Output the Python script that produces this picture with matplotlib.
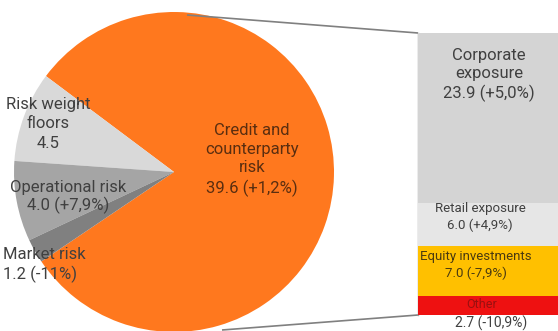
import matplotlib.pyplot as plt

# RWA split by risk type (EUR bn)
pie_labels = ["Credit and\ncounterparty\nrisk\n39.6 (+1,2%)", "Risk weight\nfloors\n4.5",
              "Operational risk\n4.0 (+7,9%)", "Market risk\n1.2 (-11%)"]
pie_values = [39.6, 4.5, 4.0, 1.2]
pie_colors = ["#FF781E", "#D9D9D9", "#A5A5A5", "#808080"]

# credit risk broken down by exposure class
bar_labels = ["Corporate\nexposure\n23.9 (+5,0%)", "Retail exposure\n6.0 (+4,9%)",
              "Equity investments\n7.0 (-7,9%)", "Other"]
bar_values = [23.9, 6.0, 7.0, 2.7]
bar_colors = ["#D4D4D4", "#E6E6E6", "#FFC000", "#EE1111"]

plt.rcParams['font.family'] = ['Roboto', 'DejaVu Sans']
txt = "#404040"

fig = plt.figure(figsize=(5.58, 3.31), dpi=100)
ax = fig.add_axes([0, 0, 1, 1])

# pie, y measured from bottom of figure
ax.pie(pie_values, colors=pie_colors, startangle=-146, counterclock=True,
       center=(174, 159), radius=160, wedgeprops=dict(linewidth=0))
# pie() resets the limits, so set them afterwards
ax.set_xlim(0, 558)
ax.set_ylim(0, 331)
ax.set_aspect('equal')
ax.axis('off')

ax.text(252, 171, pie_labels[0], ha='center', va='center', ma='center',
        fontsize=12, color="#5a2e10", linespacing=1.3)
ax.text(48, 207, pie_labels[1], ha='center', va='center', ma='center',
        fontsize=12, color=txt, linespacing=1.35)
ax.text(68, 134, pie_labels[2], ha='center', va='center', ma='center',
        fontsize=12, color=txt, linespacing=1.2)
ax.text(3, 66, pie_labels[3], ha='left', va='center', ma='left',
        fontsize=12, color=txt, linespacing=1.35)

# connector lines to the breakdown bar
ax.plot([187, 418], [316, 298], color="#808080", lw=1.2, solid_capstyle='butt')
ax.plot([222, 418], [1, 16], color="#808080", lw=1.2, solid_capstyle='butt')
ax.plot([418, 418], [16, 298], color="#a0a0a0", lw=1.0)

# stacked bar in its own axes
bx = fig.add_axes([418 / 558, 16 / 331, 140 / 558, 282 / 331])
bx.set_xlim(0, 1)
bx.set_ylim(0, sum(bar_values))
bx.axis('off')
bottom = sum(bar_values)
for v, c in zip(bar_values, bar_colors):
    bottom -= v
    bx.bar(0.5, v, width=1.0, bottom=bottom, color=c, linewidth=0)

# bar labels live on bx so they sit above the bars, placed in figure pixels
tr = ax.transData
bx.text(489, 256, bar_labels[0], ha='center', va='center', ma='center',
        fontsize=12, color=txt, linespacing=1.3, transform=tr)
bx.text(480, 114, bar_labels[1], ha='center', va='center', ma='center',
        fontsize=9.5, color=txt, linespacing=1.3, transform=tr)
bx.text(476, 66, bar_labels[2], ha='center', va='center', ma='center',
        fontsize=9.5, color="#4a3a10", linespacing=1.3, transform=tr)
bx.text(482, 27, bar_labels[3], ha='center', va='center', fontsize=9,
        color="#9a1010", transform=tr)
bx.text(491, 8, "2.7 (-10,9%)", ha='center', va='center', fontsize=10,
        color=txt, transform=tr, clip_on=False)

fig.savefig("out.png", dpi=100)
